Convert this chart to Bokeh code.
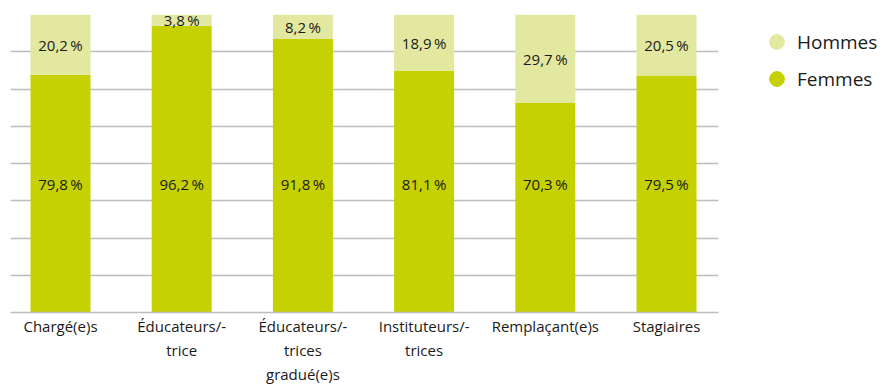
from bokeh.plotting import figure
from bokeh.models import (ColumnDataSource, FixedTicker, Range1d, Legend, LegendItem,
                          LabelSet)
from bokeh.layouts import row
from bokeh.core.properties import value
from bokeh.embed import file_html
from bokeh.resources import INLINE

categories = ["Chargé(e)s", "Éducateurs/-\ntrice", "Éducateurs/-\ntrices\ngradué(e)s",
              "Instituteurs/-\ntrices", "Remplaçant(e)s", "Stagiaires"]
femmes = [79.8, 96.2, 91.8, 81.1, 70.3, 79.5]
hommes = [20.2, 3.8, 8.2, 18.9, 29.7, 20.5]
grid_ticks = [0, 12.5, 25, 37.5, 50, 62.5, 75, 87.5, 100]
series = ["Hommes", "Femmes"]

FEM = "#c5d100"
HOM = "#e3e8a0"
FONT = "Open Sans"

x = list(range(len(categories)))
src = ColumnDataSource(dict(
    x=x, femmes=femmes, hommes=hommes,
    fem_lab=[f"{v:.1f}".replace(".", ",") + "\u2009%" for v in femmes],
    hom_lab=[f"{v:.1f}".replace(".", ",") + "\u2009%" for v in hommes],
    hom_mid=[f + h / 2 for f, h in zip(femmes, hommes)],
    fem_y=[43.0] * len(femmes),
))

p = figure(frame_width=708, frame_height=298, output_backend="svg", toolbar_location=None,
           x_range=Range1d(-0.4125, 5.429), y_range=Range1d(0, 100),
           min_border_left=10, min_border_top=14, min_border_right=22,
           min_border_bottom=71)
p.outline_line_color = None

p.vbar_stack(["femmes", "hommes"], x="x", width=0.495, color=[FEM, HOM],
             source=src, line_color=None)

for ycol, tcol in (("fem_y", "fem_lab"), ("hom_mid", "hom_lab")):
    p.add_layout(LabelSet(x="x", y=ycol, text=tcol, source=src,
                          text_align="center", text_baseline="middle",
                          text_font=value(FONT), text_font_size="15px",
                          text_color="#1a1a1a"))

p.yaxis.visible = False
p.ygrid.ticker = FixedTicker(ticks=grid_ticks)
p.ygrid.grid_line_color = "#bdbdbd"
p.ygrid.grid_line_width = 1.3
p.xgrid.visible = False

p.xaxis.ticker = FixedTicker(ticks=x)
p.xaxis.major_label_overrides = {i: c for i, c in enumerate(categories)}
p.xaxis.major_tick_line_color = None
p.xaxis.minor_tick_line_color = None
p.xaxis.axis_line_color = "#bdbdbd"
p.xaxis.axis_line_width = 1.3
p.xaxis.major_label_text_font = FONT
p.xaxis.major_label_text_font_size = "15px"
p.xaxis.major_label_text_color = "#1a1a1a"
p.xaxis.major_label_standoff = -3

# legend panel
q = figure(width=151, height=300, output_backend="svg", toolbar_location=None,
           x_range=Range1d(0, 1), y_range=Range1d(0, 1),
           min_border_left=9, min_border_right=0, min_border_bottom=0,
           min_border_top=0, outline_line_color=None)
q.axis.visible = False
q.grid.visible = False
nan = float("nan")
leg_src = ColumnDataSource(dict(x=[nan], y=[nan]))
rh = q.scatter("x", "y", source=leg_src, marker="circle", size=15, color=HOM)
rf = q.scatter("x", "y", source=leg_src, marker="circle", size=15, color=FEM)
legend = Legend(items=[LegendItem(label=series[0], renderers=[rh]),
                       LegendItem(label=series[1], renderers=[rf])],
                location="top_left", orientation="vertical",
                glyph_width=37, glyph_height=37, label_height=37,
                label_standoff=2, spacing=0, padding=0, margin=9,
                border_line_alpha=0, background_fill_alpha=0,
                label_text_font=FONT, label_text_font_size="19px",
                label_text_color="#1a1a1a")
q.add_layout(legend, "center")

layout = row(p, q, spacing=0)
open("out.html", "w").write(file_html(layout, INLINE))
